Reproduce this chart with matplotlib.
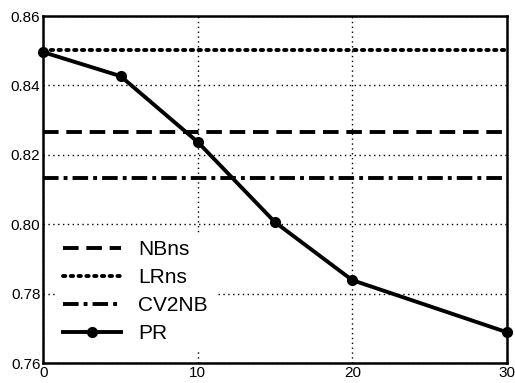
import matplotlib
matplotlib.use("Agg")
import matplotlib.pyplot as plt

plt.rcParams['font.family'] = ['Liberation Sans', 'DejaVu Sans']

# PR curve over the x settings, plus the three baselines
x = [0, 5, 10, 15, 20, 30]
pr = [0.8496, 0.8427, 0.8237, 0.8006, 0.7839, 0.7689]
nbns = 0.8265
lrns = 0.8503
cv2nb = 0.8132

fig = plt.figure(figsize=(5.15, 3.83), dpi=100)
ax = fig.add_axes([0.084, 0.052, 0.9, 0.906])

ax.axhline(nbns, color='black', lw=2.8, ls=(0, (4, 2)), label='NBns')
ax.axhline(lrns, color='black', lw=2.8, ls=(0, (0.6, 1.4)), dash_capstyle='round', label='LRns')
ax.axhline(cv2nb, color='black', lw=2.8, ls=(0, (4, 1.3, 1, 1.3)), label='CV2NB')
ax.plot(x, pr, color='black', lw=2.8, marker='o', ms=7, label='PR', clip_on=False, zorder=5)

ax.set_xlim(0, 30)
ax.set_ylim(0.76, 0.86)
ax.set_xticks([0, 10, 20, 30])
ax.set_yticks([0.76, 0.78, 0.80, 0.82, 0.84, 0.86])
ax.set_yticklabels(['0.76', '0.78', '0.80', '0.82', '0.84', '0.86'])
ax.grid(True, color='black', ls=(0, (1, 2.5)), lw=1.0)
ax.tick_params(length=0, labelsize=11, pad=2)
for s in ax.spines.values():
    s.set_linewidth(1.8)

leg = ax.legend(loc='lower left', fontsize=15, frameon=True, handlelength=2.8,
                borderaxespad=0.6, borderpad=0.35, labelspacing=0.43, handletextpad=0.8)
leg.get_frame().set_edgecolor('none')
leg.get_frame().set_facecolor('white')
leg.get_frame().set_alpha(1)

fig.savefig('out.png', dpi=100)
